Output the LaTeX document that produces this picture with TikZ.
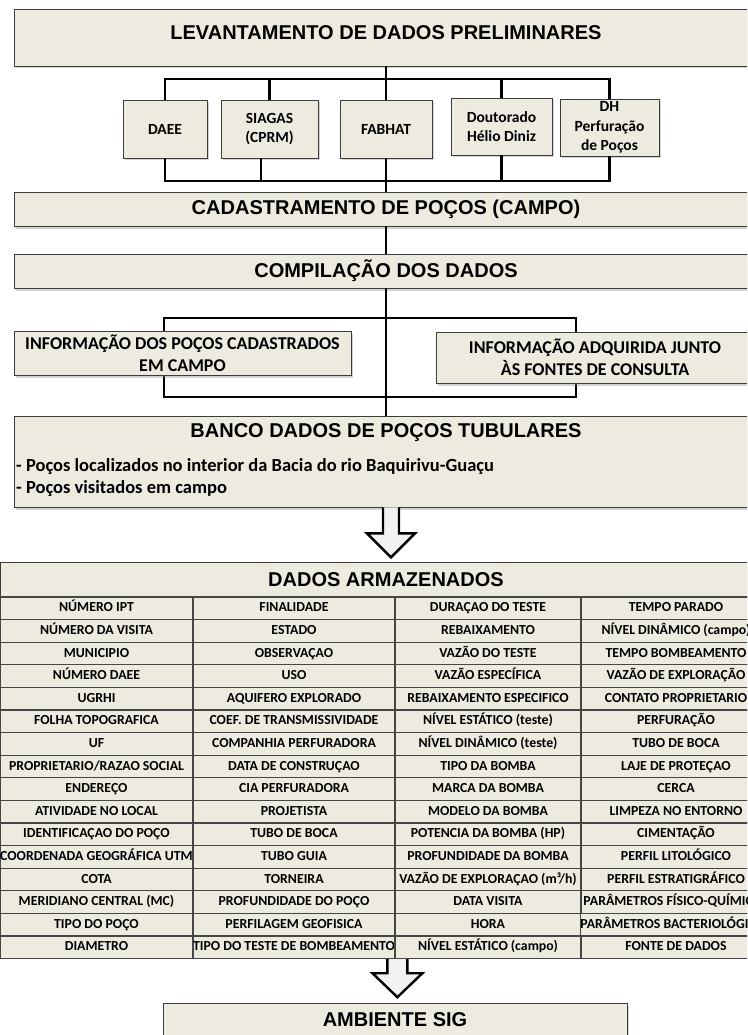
\documentclass[tikz,border=0pt]{standalone}
\usepackage{fontspec}
\setmainfont{Carlito}
\newfontfamily\titlefont{Liberation Sans}
\usetikzlibrary{positioning,calc,shadows,backgrounds}
\definecolor{paper}{RGB}{237,235,224}
\definecolor{edge}{RGB}{60,60,60}
\definecolor{grid}{RGB}{70,70,70}
\definecolor{hollow}{RGB}{242,242,242}

\begin{document}
\begin{tikzpicture}[x=1pt, y=-1pt,
    box/.style={rectangle, draw=edge, fill=paper, line width=0.8pt, inner sep=0pt, drop shadow={shadow xshift=1.5pt, shadow yshift=-2.5pt, opacity=0.35}},
    tfont/.style={font=\titlefont\bfseries\fontsize{20}{23}\selectfont},
    title/.style={box, tfont},
    source/.style={box, align=center, font=\bfseries\fontsize{15.5}{19.5}\selectfont},
    info/.style={box, align=center, font=\bfseries\fontsize{18}{22}\selectfont},
    bullet/.style={anchor=west, inner sep=0pt, font=\bfseries\fontsize{18.5}{22}\selectfont},
    cell/.style={rectangle, draw=grid, fill=paper, line width=1.2pt, minimum height=22.6pt, inner sep=0pt, text height=9.5pt, text depth=2.5pt, font=\bfseries\fontsize{13.8}{15}\selectfont},
    line/.style={draw=black, line width=2.6pt},
    hollowarrow/.style={draw=black, fill=hollow, line width=2.4pt, line join=miter}
]
\useasboundingbox (0,0) rectangle (747,1035);
\clip (0,0) rectangle (747,1035);

\node[title, minimum width=744pt, minimum height=57pt, text height=14pt, text depth=9pt] (lev) at (386,37.5) {LEVANTAMENTO DE DADOS PRELIMINARES};

\node[source, minimum width=84pt, minimum height=58pt] (daee) at (165,129) {DAEE};
\node[source, minimum width=97pt, minimum height=58pt] (siagas) at (269.5,129) {SIAGAS\\(CPRM)};
\node[source, minimum width=92pt, minimum height=58pt] (fabhat) at (386,129) {FABHAT};
\node[source, minimum width=101pt, minimum height=57pt] (dout) at (501.5,126.5) {Doutorado\\Hélio Diniz};
\node[source, minimum width=99pt, minimum height=57pt] (dh) at (609.5,127.5) {DH\\Perfuração\\de Poços};

\node[title, minimum width=744pt, minimum height=34pt] (cad) at (386,209) {CADASTRAMENTO DE POÇOS (CAMPO)};
\node[title, minimum width=744pt, minimum height=34pt] (comp) at (386,271) {COMPILAÇÃO DOS DADOS};

\node[info, minimum width=337pt, minimum height=44pt] (info1) at (182.5,353) {INFORMAÇÃO DOS POÇOS CADASTRADOS\\EM CAMPO};
\node[info, minimum width=318pt, minimum height=51pt] (info2) at (595,357.5) {INFORMAÇÃO ADQUIRIDA JUNTO\\ÀS FONTES DE CONSULTA};

\node[box, minimum width=744pt, minimum height=91pt] (banco) at (386,461.5) {};
\node[tfont] (bancot) at (386,433) {BANCO DADOS DE POÇOS TUBULARES};
\node[bullet] (bancol1) at (16,467) {- Poços localizados no interior da Bacia do rio Baquirivu-Guaçu};
\node[bullet] (bancol2) at (16,489) {- Poços visitados em campo};

\node[title, minimum width=772pt, minimum height=35pt] (dados) at (386,579.5) {DADOS ARMAZENADOS};

\foreach \t [count=\i] in {NÚMERO IPT, NÚMERO DA VISITA, MUNICIPIO, NÚMERO DAEE, UGRHI, FOLHA TOPOGRAFICA, UF, PROPRIETARIO/RAZAO SOCIAL, ENDEREÇO, ATIVIDADE NO LOCAL, IDENTIFICAÇAO DO POÇO, COORDENADA GEOGRÁFICA UTM, COTA, MERIDIANO CENTRAL (MC), TIPO DO POÇO, DIAMETRO}
    \node[cell, minimum width=193pt] (a\i) at (96.5,585.7+22.6*\i) {\t};
\foreach \t [count=\i] in {FINALIDADE, ESTADO, OBSERVAÇAO, USO, AQUIFERO EXPLORADO, COEF. DE TRANSMISSIVIDADE, COMPANHIA PERFURADORA, DATA DE CONSTRUÇAO, CIA PERFURADORA, PROJETISTA, TUBO DE BOCA, TUBO GUIA, TORNEIRA, PROFUNDIDADE DO POÇO, PERFILAGEM GEOFISICA, TIPO DO TESTE DE BOMBEAMENTO}
    \node[cell, minimum width=202pt] (b\i) at (294,585.7+22.6*\i) {\t};
\foreach \t [count=\i] in {DURAÇAO DO TESTE, REBAIXAMENTO, VAZÃO DO TESTE, VAZÃO ESPECÍFICA, REBAIXAMENTO ESPECIFICO, NÍVEL ESTÁTICO (teste), NÍVEL DINÂMICO (teste), TIPO DA BOMBA, MARCA DA BOMBA, MODELO DA BOMBA, POTENCIA DA BOMBA (HP), PROFUNDIDADE DA BOMBA, VAZÃO DE EXPLORAÇAO (m³/h), DATA VISITA, HORA, NÍVEL ESTÁTICO (campo)}
    \node[cell, minimum width=186pt] (c\i) at (488,585.7+22.6*\i) {\t};
\foreach \t [count=\i] in {TEMPO PARADO, NÍVEL DINÂMICO (campo), TEMPO BOMBEAMENTO, VAZÃO DE EXPLORAÇÃO, CONTATO PROPRIETARIO, PERFURAÇÃO, TUBO DE BOCA, LAJE DE PROTEÇAO, CERCA, LIMPEZA NO ENTORNO, CIMENTAÇÃO, PERFIL LITOLÓGICO, PERFIL ESTRATIGRÁFICO, PARÂMETROS FÍSICO-QUÍMICOS, PARÂMETROS BACTERIOLÓGICOS, FONTE DE DADOS}
    \node[cell, minimum width=190pt] (d\i) at (676,585.7+22.6*\i) {\t};

\node[box, minimum width=464pt, minimum height=34pt, font=\titlefont\bfseries\fontsize{20}{24}\selectfont] (sig) at (395,1020) {AMBIENTE SIG};

\coordinate (bus1) at (386,79);
\coordinate (bus2) at (386,181);
\draw[line] (lev) -- (fabhat);
\draw[line] (daee.north) |- (bus1) -| (dh.north);
\draw[line] (siagas.north) |- (bus1);
\draw[line] (dout.north) |- (bus1);
\draw[line] (daee.south) |- (bus2) -| (dh.south);
\draw[line] ([xshift=-8.5pt]siagas.south) |- (bus2);
\draw[line] (dout.south) |- (bus2);
\draw[line] (fabhat) -- (cad);
\draw[line] (cad) -- (comp);
\draw[line] (comp) -- (banco);

\coordinate (brt) at (386,318);
\coordinate (brb) at (386,397);
\begin{scope}[on background layer]
\draw[line] (brt) -| ([xshift=-18.5pt]info1.center) |- (brb) -| ([xshift=-19pt]info2.center) |- (brt);
\end{scope}

\coordinate (ar1) at ([xshift=5pt]banco.south);
\draw[hollowarrow] ([xshift=-8pt]ar1) -- ++(0,26) -- ++(-16,0) -- ++(24,24) -- ++(24,-24) -- ++(-16,0) -- ++(0,-26);
\coordinate (ar2) at ([xshift=3pt]c16.south west);
\draw[hollowarrow] ([xshift=-10pt]ar2) -- ++(0,14) -- ++(-15,0) -- ++(25,24) -- ++(25,-24) -- ++(-15,0) -- ++(0,-14);

\end{tikzpicture}
\end{document}
